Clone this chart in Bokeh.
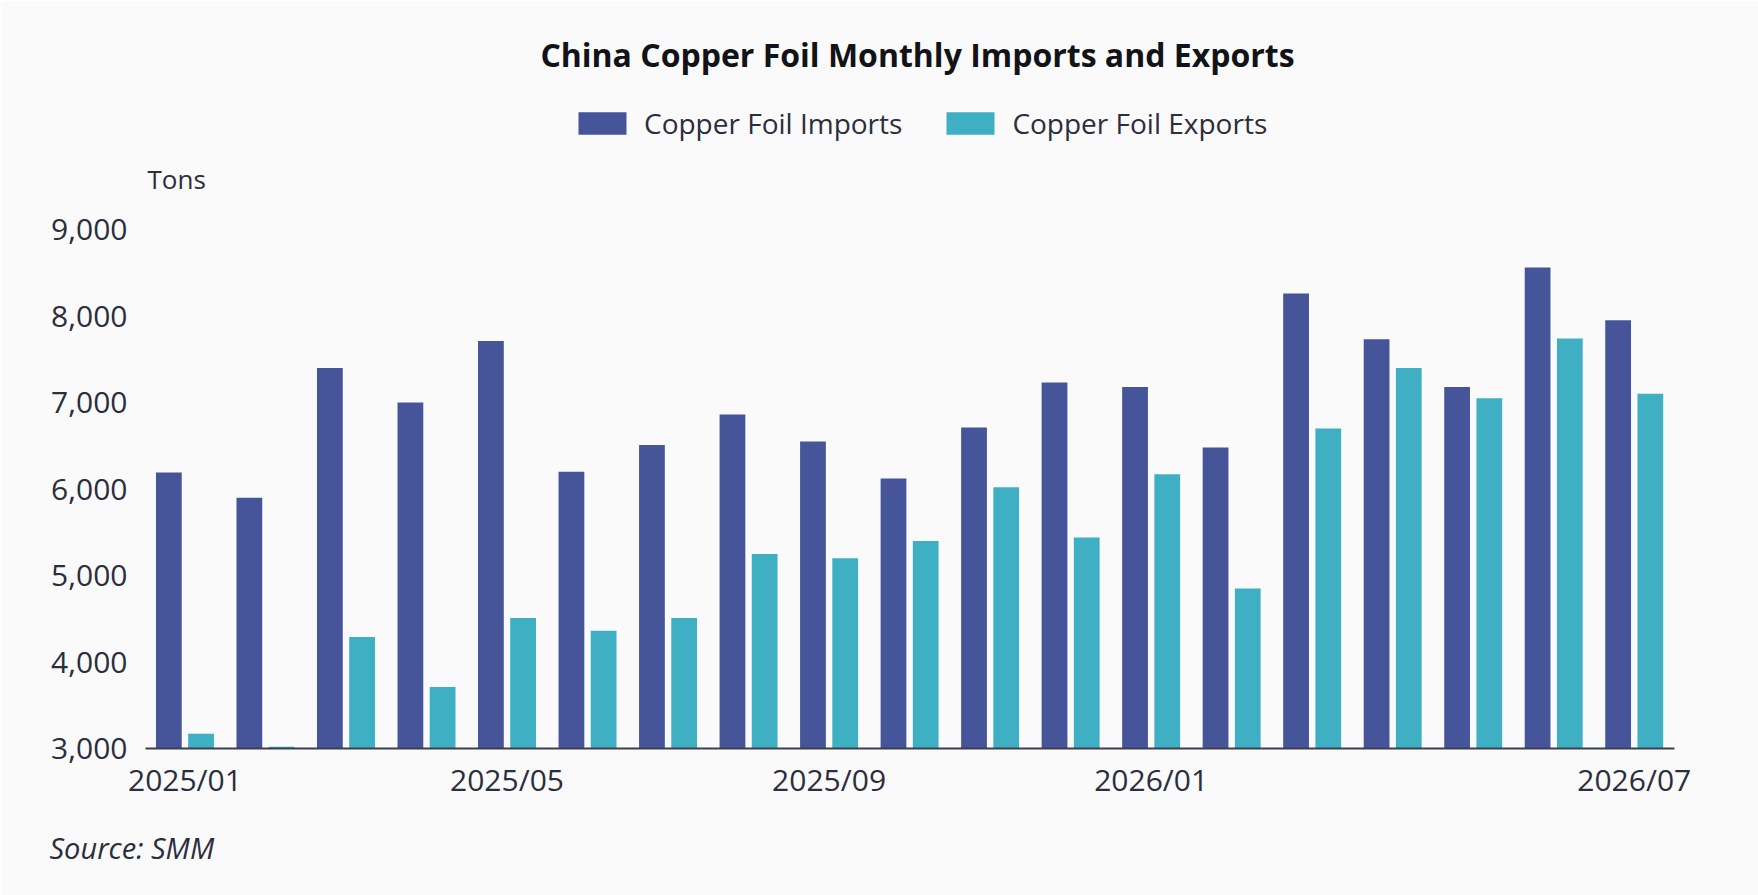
from bokeh.plotting import figure
from bokeh.models import (Range1d, FixedTicker, NumeralTickFormatter, Label, Title,
                          Legend, LegendItem, ColumnDataSource)
from bokeh.transform import dodge
from bokeh.embed import file_html
from bokeh.resources import INLINE

# ---------------- data ----------------
months = ["2025/01", "2025/02", "2025/03", "2025/04", "2025/05", "2025/06",
          "2025/07", "2025/08", "2025/09", "2025/10", "2025/11", "2025/12",
          "2026/01", "2026/02", "2026/03", "2026/04", "2026/05", "2026/06",
          "2026/07"]
imports = [6190, 5900, 7400, 7000, 7710, 6200, 6510, 6860, 6550, 6120,
           6710, 7230, 7180, 6480, 8260, 7730, 7180, 8560, 7950]
exports = [3170, 3020, 4290, 3710, 4510, 4360, 4510, 5250, 5200, 5400,
           6020, 5440, 6170, 4850, 6700, 7400, 7050, 7740, 7100]
labeled_months = ["2025/01", "2025/05", "2025/09", "2026/01", "2026/07"]
y_ticks = [3000, 4000, 5000, 6000, 7000, 8000, 9000]
series_names = ["Copper Foil Imports", "Copper Foil Exports"]
title_text = "China Copper Foil Monthly Imports and Exports"
unit_text = "Tons"
source_text = "Source: SMM"

# ---------------- style ----------------
FONT = "Open Sans"
BG = "#fafafb"
TXT = "#2b2e3c"
C_IMP = "#46549a"
C_EXP = "#3fb0c4"

n = len(months)
src = ColumnDataSource(dict(x=list(range(n)), imports=imports, exports=exports))

# frame: 1529 px wide, bottom at 748 px; 6000 t spans 519 px; extra headroom
frame_h = 728
y_end = y_ticks[0] + (y_ticks[-1] - y_ticks[0]) * frame_h / 519.0

p = figure(width=1758, height=895, output_backend="svg", toolbar_location=None,
           x_range=Range1d(-0.49, n - 0.5), y_range=Range1d(y_ticks[0], y_end),
           min_border_left=145, min_border_right=84, min_border_top=20,
           min_border_bottom=147)
p.background_fill_color = BG
p.border_fill_color = BG
p.outline_line_color = None
p.grid.visible = False

r_imp = p.vbar(x=dodge("x", -0.2), top="imports", bottom=y_ticks[0], width=0.32,
               source=src, fill_color=C_IMP, line_color=None)
r_exp = p.vbar(x=dodge("x", 0.2), top="exports", bottom=y_ticks[0], width=0.32,
               source=src, fill_color=C_EXP, line_color=None)

# y axis
ya = p.yaxis[0]
ya.ticker = FixedTicker(ticks=y_ticks)
ya.formatter = NumeralTickFormatter(format="0,0")
ya.axis_line_color = None
ya.major_tick_line_color = None
ya.minor_tick_line_color = None
ya.major_label_standoff = 12
ya.major_label_text_font = FONT
ya.major_label_text_font_size = "30px"
ya.major_label_text_color = TXT

# x axis
xa = p.xaxis[0]
tick_idx = [months.index(m) for m in labeled_months]
xa.ticker = FixedTicker(ticks=tick_idx)
xa.major_label_overrides = {i: months[i] for i in tick_idx}
xa.axis_line_color = "#3c3f4c"
xa.axis_line_width = 2
xa.major_tick_line_color = None
xa.minor_tick_line_color = None
xa.major_label_standoff = 4
xa.major_label_text_font = FONT
xa.major_label_text_font_size = "30px"
xa.major_label_text_color = TXT

# legend
legend = Legend(items=[LegendItem(label=series_names[0], renderers=[r_imp]),
                       LegendItem(label=series_names[1], renderers=[r_exp])],
                orientation="horizontal", location=(427, 606),
                glyph_width=60, glyph_height=28, label_standoff=12, spacing=38,
                padding=0, margin=0, border_line_color=None,
                background_fill_alpha=0, label_text_font=FONT,
                label_text_font_size="28px", label_text_color=TXT)
p.add_layout(legend)

# texts
p.add_layout(Label(x=772, y=694, x_units="screen", y_units="screen", text=title_text,
                   text_align="center", text_baseline="alphabetic", text_font=FONT,
                   text_font_style="bold", text_font_size="32px", text_color="#111318"))
p.add_layout(Label(x=2, y=570, x_units="screen", y_units="screen", text=unit_text,
                   text_align="left", text_baseline="alphabetic", text_font=FONT,
                   text_font_size="26px", text_color=TXT))
p.add_layout(Title(text=source_text, align="left", offset=-96, standoff=47,
                   text_font=FONT, text_font_style="italic", text_font_size="29px",
                   text_color=TXT), "below")

open("out.html", "w").write(file_html(p, INLINE))
